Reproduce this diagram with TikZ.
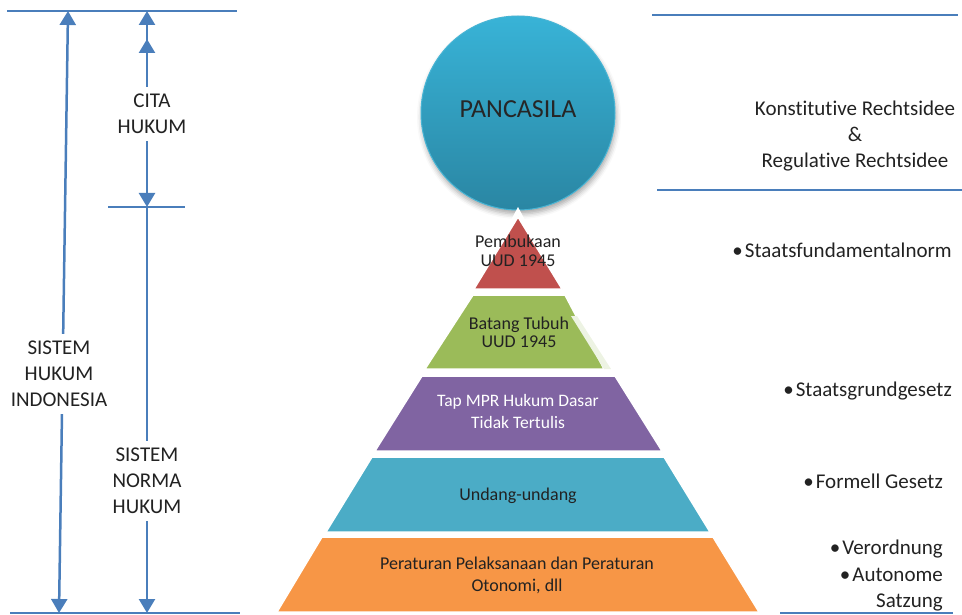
\documentclass[tikz,border=0pt]{standalone}
\usepackage{fontspec}
\setmainfont{Carlito}[Ligatures=NoCommon]
\usetikzlibrary{arrows.meta,shadows.blur}
\definecolor{lineblue}{HTML}{4A7EBB}
\definecolor{textdark}{HTML}{222222}
\definecolor{pyrred}{HTML}{C0504D}
\definecolor{pyrgreen}{HTML}{9BBB59}
\definecolor{pyrpurple}{HTML}{8064A2}
\definecolor{pyrteal}{HTML}{4BACC6}
\definecolor{pyrorange}{HTML}{F79646}
\definecolor{sliver}{HTML}{EDF3E3}
\definecolor{circtop}{HTML}{38B3D7}
\definecolor{circbot}{HTML}{2A86A3}
\definecolor{circedge}{HTML}{47B4D4}
\tikzset{
  >={Triangle[width=16pt,length=14pt]},
  hline/.style={draw=lineblue, line width=2pt},
  dim/.style={draw=lineblue, fill=lineblue, line width=2.5pt},
  gaplabel/.style={fill=white, align=center, font=\fontsize{21}{26}\selectfont, text=textdark, inner xsep=2pt, inner ysep=7pt, text depth=0pt, outer sep=0pt},
  layer/.style={draw=white, line width=1.5pt, line join=round},
  pyrtext/.style={align=center, inner sep=0pt, text depth=0pt, text=textdark},
  rtext/.style={align=center, inner sep=0pt, text depth=0pt, text=textdark, font=\fontsize{21}{26}\selectfont},
}
\begin{document}
\begin{tikzpicture}[x=1pt,y=-1pt]
\useasboundingbox (0,0) rectangle (962,615);

% horizontal guide lines
\coordinate (h1a) at (7,11);   \coordinate (h1b) at (237,11);
\coordinate (h2a) at (108,207); \coordinate (h2b) at (185,207);
\coordinate (h3a) at (10,613); \coordinate (h3b) at (240,613);
\coordinate (h4a) at (652,15); \coordinate (h4b) at (958,15);
\coordinate (h5a) at (657,190); \coordinate (h5b) at (962,190);
\coordinate (h6a) at (780,613); \coordinate (h6b) at (953,613);
\draw[hline] (h1a) -- (h1b);
\draw[hline] (h2a) -- (h2b);
\draw[hline] (h3a) -- (h3b);
\draw[hline] (h4a) -- (h4b);
\draw[hline] (h5a) -- (h5b);
\draw[hline] (h6a) -- (h6b);

% dimension arrows
\coordinate (topL) at (68,11);
\coordinate (botL) at (59,613);
\coordinate (citaTop) at (147,11);
\coordinate (citaTop2) at (147,39);
\coordinate (citaLow) at (147,70);
\coordinate (citaBot) at (147,207);
\coordinate (normBot) at (147,613);
\draw[dim,<->] (botL) -- (topL);
\draw[dim,<->] (citaBot) -- (citaTop);
\draw[dim,->] (citaLow) -- (citaTop2);
\draw[dim,->] (citaBot) -- (normBot);

\node[gaplabel] (cita) at (152,114) {CITA\\HUKUM};
\node[gaplabel] (shi) at (59,374) {SISTEM\\HUKUM\\INDONESIA};
\node[gaplabel] (snh) at (147,481) {SISTEM\\NORMA\\HUKUM};

% Pancasila circle
\node[circle, minimum size=194pt, inner sep=0pt, top color=circtop, bottom color=circbot,
      draw=circedge, line width=1pt,
      blur shadow={shadow xshift=1pt, shadow yshift=-4pt, shadow blur radius=5pt, shadow opacity=35},
      font=\fontsize{26}{30}\selectfont, text=black!85, text height=16.7pt, text depth=8.6pt]
      (panc) at (518,113) {PANCASILA};

% pyramid
\fill[white] (511,220) -- (518,207) -- (525,220) -- cycle;
\path[layer, fill=pyrred] (518,217) -- (562,289) -- (474,289) -- cycle;
\path[layer, fill=pyrgreen] (473,295) -- (565,295) -- (604,369) -- (425,369) -- cycle;
\fill[sliver] (571,316) -- (577,316) -- (611,369) -- (604,369) -- cycle;
\path[layer, fill=pyrpurple] (422,376) -- (615,376) -- (662,451) -- (375,451) -- cycle;
\path[layer, fill=pyrteal] (372,457) -- (664,457) -- (710,532) -- (326,532) -- cycle;
\path[layer, fill=pyrorange] (322,537) -- (713,537) -- (759,612) -- (277,612) -- cycle;

\node[pyrtext, anchor=south, font=\fontsize{18}{19.5}\selectfont] (pemb) at (518,267) {Pembukaan\\UUD 1945};
\node[pyrtext, anchor=south, font=\fontsize{18}{18.5}\selectfont] (batang) at (519,348) {Batang Tubuh\\UUD 1945};
\node[pyrtext, anchor=south, font=\fontsize{17.5}{22}\selectfont, text=white] (tap) at (518,429) {Tap MPR Hukum Dasar\\Tidak Tertulis};
\node[pyrtext, anchor=base, font=\fontsize{18}{20}\selectfont] (uu) at (518,500) {Undang-undang};
\node[pyrtext, anchor=south, font=\fontsize{18}{22}\selectfont] (perat) at (517,592) {Peraturan Pelaksanaan dan Peraturan\\Otonomi, dll};

% right side texts
\node[rtext, anchor=south] (rechts) at (855,168) {Konstitutive Rechtsidee\\\&\\Regulative Rechtsidee};
\node[rtext, anchor=base east] (sfn) at (952,257) {•\kern2pt Staatsfundamentalnorm};
\node[rtext, anchor=base east] (sgg) at (952,396) {•\kern2pt Staatsgrundgesetz};
\node[rtext, anchor=base east] (fg) at (943,488) {•\kern2pt Formell Gesetz};
\node[rtext, align=right, anchor=south east, font=\fontsize{21}{26.5}\selectfont] (verord) at (943,608) {•\kern2pt Verordnung\\•\kern2pt Autonome\\Satzung};
\end{tikzpicture}
\end{document}
